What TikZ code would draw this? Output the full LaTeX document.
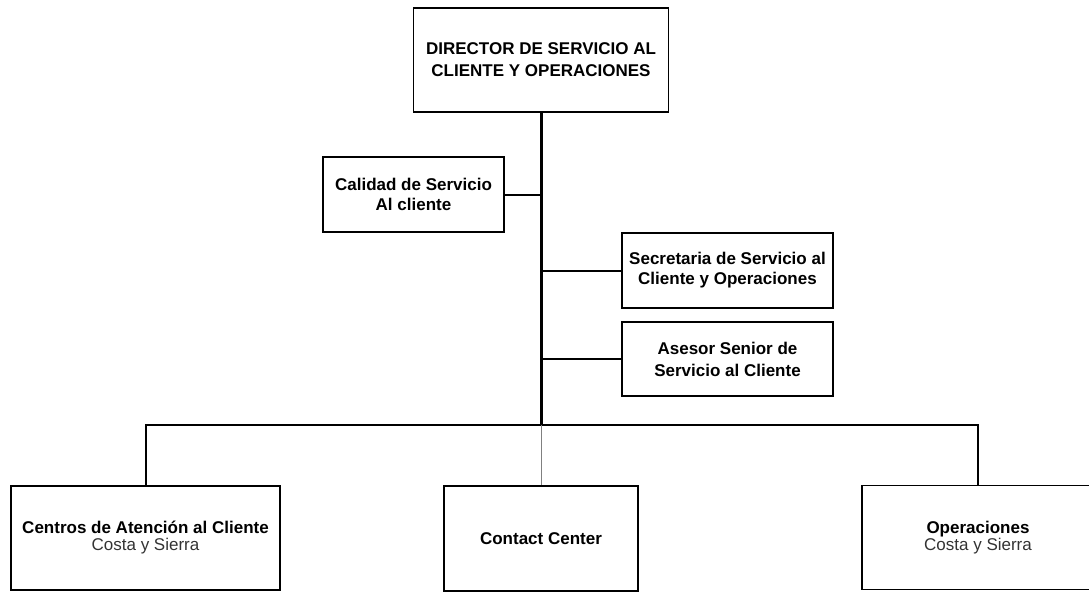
\documentclass[tikz,border=0pt]{standalone}
\usepackage{fontspec}
\setmainfont{Liberation Sans}
\newcommand{\subline}[1]{{\mdseries\color{black!80}#1}}
\begin{document}
\begin{tikzpicture}[x=1pt,y=-1pt,
    box/.style={draw, line width=1.8pt, inner sep=0pt, align=center,
      font=\fontsize{17}{20}\selectfont\bfseries},
    link/.style={line width=2pt},
    trunk/.style={line width=3pt}]
      \useasboundingbox (0,0) rectangle (1089,592);
      \clip (0,0) rectangle (1089,592);
      \node[box, minimum width=255pt, minimum height=104pt] (dir) at (541,60) {DIRECTOR DE SERVICIO AL\\[2pt]CLIENTE Y OPERACIONES};
      \node[box, minimum width=181pt, minimum height=75pt] (cal) at (413.5,194.5) {Calidad de Servicio\\Al cliente};
      \node[box, minimum width=211pt, minimum height=75pt] (sec) at (727.5,270.5) {Secretaria de Servicio al\\Cliente y Operaciones};
      \node[box, minimum width=211pt, minimum height=74pt] (ase) at (727.5,359) {Asesor Senior de\\[2pt]Servicio al Cliente};
      \node[box, minimum width=269pt, minimum height=104pt] (cen) at (145.5,538) {Centros de Atención al Cliente\\[-3pt]\subline{Costa y Sierra}};
      \node[box, minimum width=194pt, minimum height=105pt] (cc) at (541,538.5) {Contact Center};
      \node[box, minimum width=232pt, minimum height=104pt] (ope) at (978,537.5) {Operaciones\\[-3pt]\subline{Costa y Sierra}};
      \coordinate (bus) at (541,425);
      \draw[trunk] (dir.south) -- (bus);
      \draw[link] (cal.east) -- (cal.east -| bus);
      \draw[link] (sec.west) -- (sec.west -| bus);
      \draw[link] (ase.west) -- (ase.west -| bus);
      \draw[link] (cen.north) |- (bus) -| (ope.north);
      \draw[gray, line width=1pt] (bus) -- (cc.north);
\end{tikzpicture}
\end{document}
